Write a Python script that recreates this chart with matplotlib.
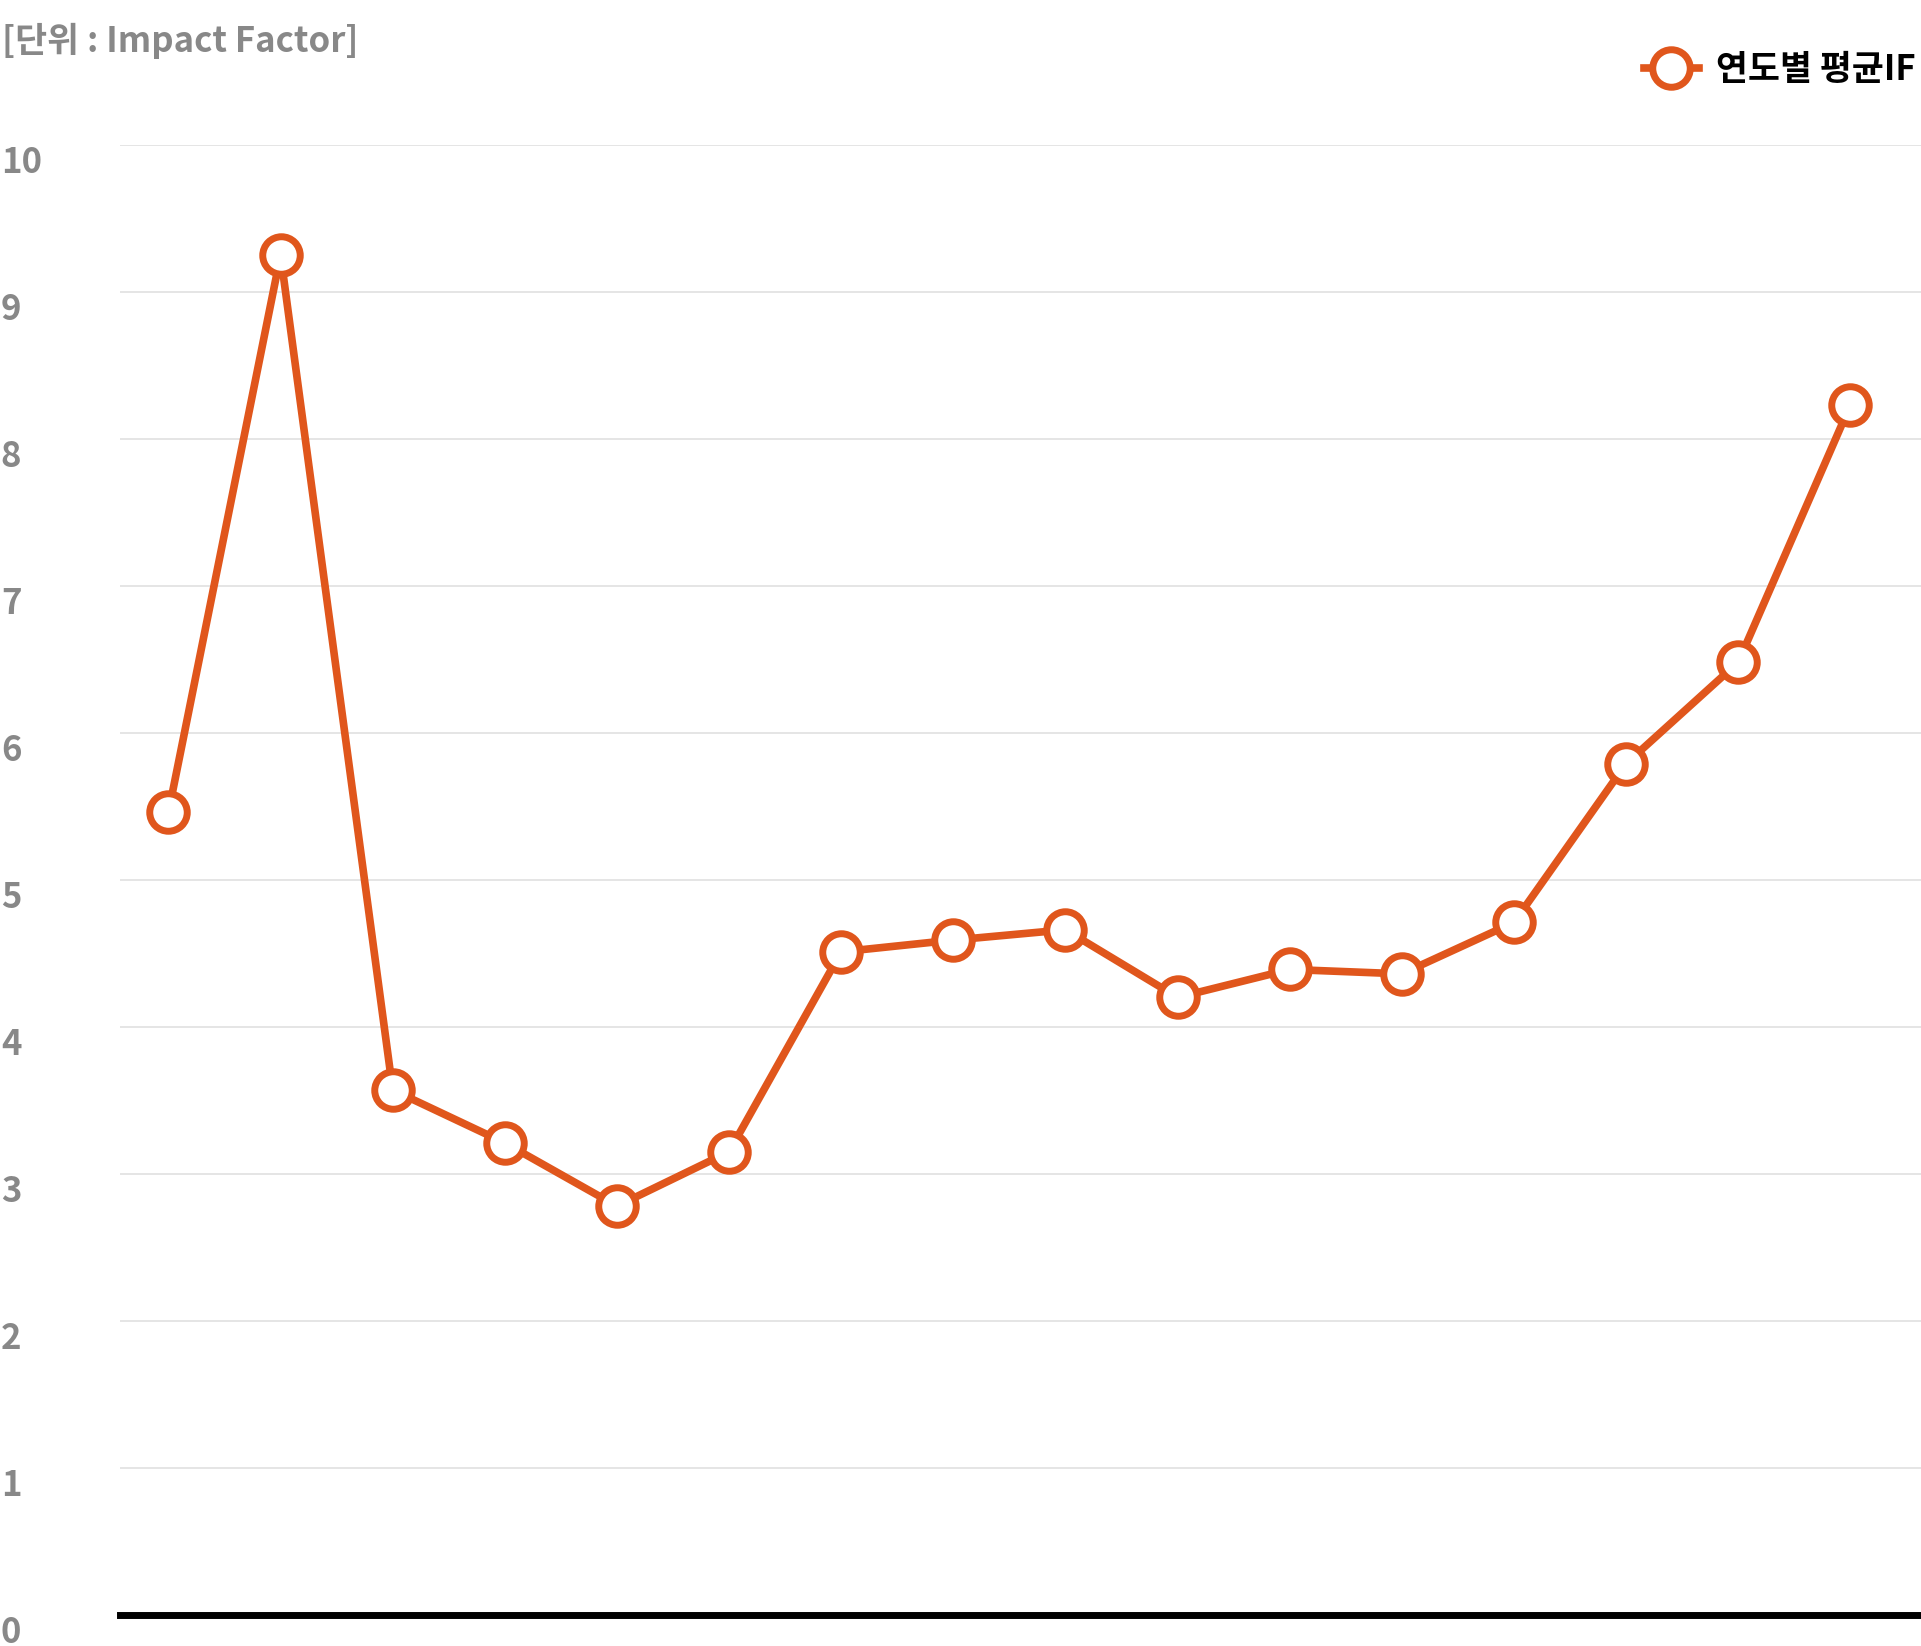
import matplotlib.pyplot as plt

plt.rcParams['font.family'] = ['Noto Sans CJK KR', 'DejaVu Sans']

# yearly average impact factor (years are not labelled in the chart)
avg_if = [5.46, 9.25, 3.57, 3.21, 2.78, 3.15, 4.51, 4.59, 4.66, 4.20,
          4.39, 4.36, 4.71, 5.79, 6.48, 8.23]
y_ticks = [0, 1, 2, 3, 4, 5, 6, 7, 8, 9, 10]

orange = '#E0561C'
grey = '#888888'

fig = plt.figure(figsize=(19.21, 16.46), dpi=100)
ax = fig.add_axes([0.0626, 0.019, 0.9374, 0.893])

x = list(range(len(avg_if)))
ax.plot(x, avg_if, color=orange, lw=5.5, marker='o', ms=27,
        mfc='white', mec=orange, mew=5, label='연도별 평균IF', zorder=3)

ax.set_ylim(0, 10)
ax.set_xlim(-0.43, len(avg_if) - 1 + 0.63)
ax.set_yticks(y_ticks)
ax.set_yticklabels([str(t) for t in y_ticks], fontsize=25, fontweight='bold',
                   color=grey, ha='left', va='top')
ax.tick_params(axis='y', length=0, pad=86)
ax.set_xticks([])
ax.grid(axis='y', color='#e3e3e3', lw=1.3)
for s in ['top', 'right', 'left']:
    ax.spines[s].set_visible(False)
ax.spines['bottom'].set_color('black')
ax.spines['bottom'].set_linewidth(5)

fig.text(0.001, 0.975, '[단위 : Impact Factor]', fontsize=25, fontweight='bold',
         color=grey, ha='left', va='center')

ax.legend(loc='lower right', bbox_to_anchor=(1.005, 1.03), frameon=False,
          fontsize=25, handlelength=1.6, handletextpad=0.5, borderaxespad=0,
          prop={'size': 25, 'weight': 'bold'})

fig.savefig('out.png', dpi=100, facecolor='white')
